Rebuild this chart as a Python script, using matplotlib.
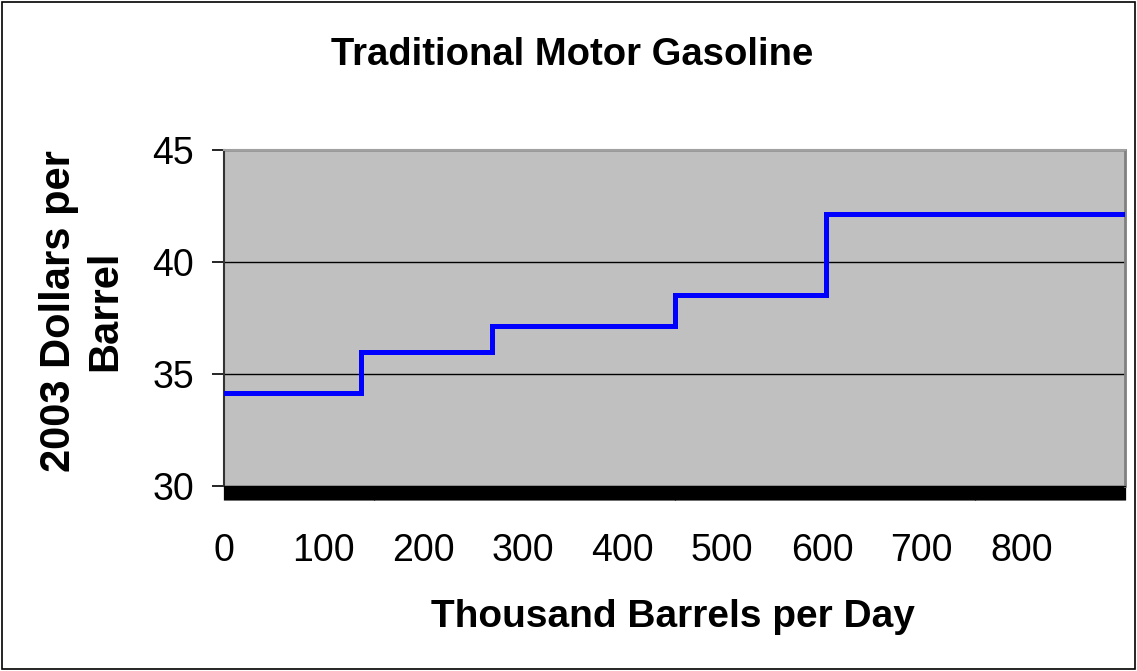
"""
Step supply curve for traditional motor gasoline.
"""
import numpy as np
import matplotlib
matplotlib.use('Agg')
import matplotlib.pyplot as plt
from matplotlib.patches import Rectangle

# Data
step_x = [0, 137, 269, 453, 604, 904]
step_price = [34.15, 35.98, 37.14, 38.53, 42.14, 42.14]
x_ticks = [0, 100, 200, 300, 400, 500, 600, 700, 800]
y_ticks = [30, 35, 40, 45]

plt.rcParams['font.family'] = ['Liberation Sans', 'DejaVu Sans']

fig = plt.figure(figsize=(11.37, 6.71), dpi=100)
ax = fig.add_axes([224 / 1137, 1 - 486 / 671, 901 / 1137, 336 / 671])
ax.set_facecolor('#c0c0c0')

# Step line
ax.plot(step_x, step_price, drawstyle='steps-post', color='#0000ff', linewidth=3.6,
        solid_joinstyle='miter', zorder=3)

ax.set_xlim(0, 904)
ax.set_ylim(30, 45)
ax.set_xticks(x_ticks)
ax.set_yticks(y_ticks)
ax.set_xticklabels([str(v) for v in x_ticks], fontsize=27)
ax.set_yticklabels([str(v) for v in y_ticks], fontsize=27)

# Dense category tick marks along the bottom
ax.set_xticks(np.arange(0, 905, 1), minor=True)
ax.tick_params(axis='x', which='minor', length=10, width=0.9, color='black', direction='out')
ax.tick_params(axis='x', which='major', length=10, width=0.9, pad=24, direction='out')
ax.tick_params(axis='y', which='major', length=8.5, width=1.2, pad=13, direction='out')

# Horizontal gridlines
ax.grid(axis='y', color='black', linewidth=1.0)
ax.set_axisbelow(True)

ax.spines['left'].set_color('#333333')
ax.spines['left'].set_linewidth(1.5)
ax.spines['bottom'].set_color('black')
ax.spines['top'].set_color('#a0a0a0')
ax.spines['top'].set_linewidth(1.5)
ax.spines['right'].set_color('#808080')
ax.spines['right'].set_linewidth(2)

fig.text(572 / 1137, 1 - 55 / 671, 'Traditional Motor Gasoline', ha='center', va='center',
         fontsize=27.5, fontweight='bold')
fig.text(673 / 1137, 1 - 617 / 671, 'Thousand Barrels per Day', ha='center', va='center',
         fontsize=28, fontweight='bold')
fig.text(82 / 1137, 1 - 311 / 671, '2003 Dollars per\nBarrel', ha='center', va='center',
         rotation=90, fontsize=30, fontweight='bold', linespacing=1.2)

# Outer chart border
fig.patches.append(Rectangle((2 / 1137, 2 / 671), 1133 / 1137, 667 / 671,
                             transform=fig.transFigure, fill=False,
                             edgecolor='black', linewidth=1.2))

fig.savefig('out.png', dpi=100)
plt.close(fig)
